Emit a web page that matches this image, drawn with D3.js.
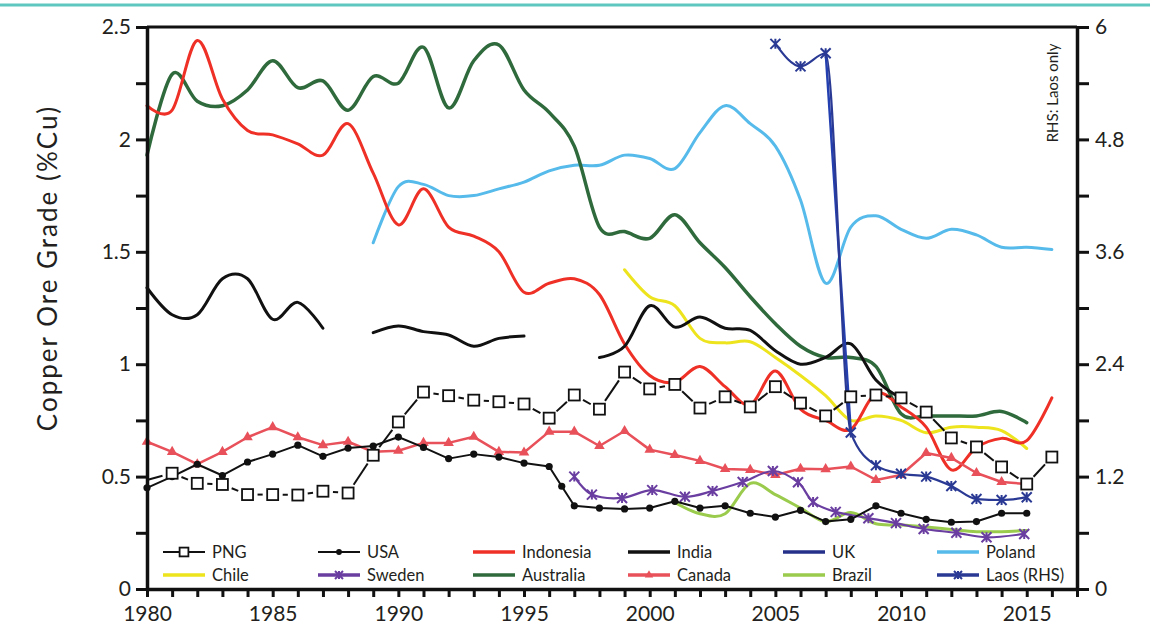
<!DOCTYPE html>
<html><head><meta charset="utf-8">
<script src="https://cdn.jsdelivr.net/npm/d3@7"></script>
<style>
html,body{margin:0;padding:0;background:#fff;}
svg{display:block;font-family:Lato,"Open Sans",sans-serif;}
</style></head>
<body><svg id="c" width="1150" height="627"></svg>
<script>
// ---------- DATA ----------
const pngYears = [1980,1981,1982,1983,1984,1985,1986,1987,1988,1989,1990,1991,1992,1993,1994,1995,1996,1997,1998,1999,2000,2001,2002,2003,2004,2005,2006,2007,2008,2009,2010,2011,2012,2013,2014,2015,2016];
const pngValues = [0.485,0.515,0.47,0.465,0.42,0.42,0.418,0.435,0.427,0.595,0.743,0.876,0.86,0.84,0.833,0.823,0.76,0.863,0.80,0.965,0.89,0.91,0.805,0.855,0.81,0.90,0.827,0.77,0.855,0.863,0.85,0.787,0.672,0.632,0.543,0.467,0.587];

const usaYears = [1980,1981,1982,1983,1984,1985,1986,1987,1988,1989,1990,1991,1992,1993,1994,1995,1996,1996.5,1997,1998,1999,2000,2001,2002,2003,2004,2005,2006,2007,2008,2009,2010,2011,2012,2013,2014,2015];
const usaValues = [0.45,0.50,0.555,0.505,0.565,0.60,0.64,0.59,0.627,0.636,0.676,0.63,0.58,0.60,0.587,0.56,0.545,0.457,0.37,0.36,0.356,0.36,0.39,0.36,0.37,0.337,0.32,0.35,0.30,0.31,0.37,0.337,0.31,0.297,0.30,0.337,0.337];

const indonesiaYears = [1980,1981,1982,1983,1984,1985,1986,1987,1988,1989,1990,1991,1992,1993,1994,1995,1996,1997,1998,1999,2000,2001,2002,2003,2004,2005,2006,2007,2008,2009,2010,2011,2012,2013,2014,2015,2016];
const indonesiaValues = [2.15,2.13,2.44,2.18,2.04,2.02,1.98,1.93,2.07,1.85,1.62,1.78,1.61,1.57,1.50,1.32,1.36,1.38,1.31,1.09,0.95,0.92,0.99,0.90,0.82,0.97,0.80,0.75,0.71,0.87,0.81,0.72,0.53,0.63,0.67,0.66,0.85];

const indiaYears = [1980,1981,1982,1983,1984,1985,1986,1987,1988,1989,1990,1991,1992,1993,1994,1995,1996,1997,1998,1999,2000,2001,2002,2003,2004,2005,2006,2007,2008,2009,2010];
const indiaValues = [1.34,1.22,1.22,1.38,1.38,1.20,1.275,1.16,null,1.14,1.17,1.145,1.13,1.08,1.115,1.125,null,null,1.03,1.08,1.26,1.165,1.21,1.16,1.15,1.06,1.00,1.03,1.09,0.93,0.85];

const ukYears = [2007,2008];
const ukValues = [2.39,0.70];

const polandYears = [1989,1990,1991,1992,1993,1994,1995,1996,1997,1998,1999,2000,2001,2002,2003,2004,2005,2006,2007,2008,2009,2010,2011,2012,2013,2014,2015,2016];
const polandValues = [1.54,1.79,1.80,1.75,1.75,1.78,1.81,1.86,1.885,1.885,1.93,1.915,1.87,2.03,2.15,2.07,1.97,1.73,1.36,1.61,1.66,1.60,1.56,1.60,1.575,1.52,1.52,1.51];

const chileYears = [1999,2000,2001,2002,2003,2004,2005,2006,2007,2008,2009,2010,2011,2012,2013,2014,2015];
const chileValues = [1.42,1.30,1.26,1.115,1.095,1.10,1.03,0.95,0.86,0.75,0.77,0.75,0.695,0.72,0.72,0.705,0.625];

const swedenYears = [1997,1997.7,1998.9,2000.1,2001.4,2002.5,2003.7,2004.9,2005.9,2006.5,2007.4,2008.7,2009.8,2010.9,2012.2,2013.4,2014.9];
const swedenValues = [0.50,0.42,0.405,0.44,0.41,0.436,0.476,0.525,0.475,0.387,0.343,0.315,0.293,0.267,0.25,0.23,0.245];

const australiaYears = [1980,1981,1982,1983,1984,1985,1986,1987,1988,1989,1990,1991,1992,1993,1994,1995,1996,1997,1998,1999,2000,2001,2002,2003,2004,2005,2006,2007,2008,2009,2010,2011,2012,2013,2014,2015];
const australiaValues = [1.93,2.29,2.17,2.15,2.22,2.35,2.23,2.26,2.13,2.28,2.25,2.41,2.14,2.35,2.42,2.22,2.12,1.97,1.61,1.59,1.56,1.665,1.54,1.43,1.30,1.18,1.08,1.03,1.03,0.99,0.78,0.77,0.77,0.77,0.79,0.74];

const canadaYears = [1980,1981,1982,1983,1984,1985,1986,1987,1988,1989,1990,1991,1992,1993,1994,1995,1996,1997,1998,1999,2000,2001,2002,2003,2004,2005,2006,2007,2008,2009,2010,2011,2012,2013,2014,2015];
const canadaValues = [0.655,0.61,0.555,0.61,0.675,0.72,0.675,0.64,0.655,0.61,0.615,0.65,0.65,0.677,0.61,0.607,0.70,0.70,0.636,0.703,0.62,0.596,0.57,0.534,0.53,0.507,0.535,0.533,0.545,0.485,0.507,0.605,0.583,0.516,0.476,0.467];

const brazilYears = [2001,2002,2003,2004,2005,2006,2007,2008,2009,2010,2011,2012,2013,2014,2015];
const brazilValues = [0.385,0.335,0.335,0.47,0.42,0.36,0.30,0.34,0.29,0.285,0.276,0.265,0.255,0.255,0.26];

const laosYears = [2005,2006,2007,2008,2009,2010,2011,2012,2013,2014,2015];
const laosValues = [5.82,5.58,5.72,1.67,1.32,1.23,1.20,1.10,0.96,0.95,0.98]; // right-hand scale

const leftTicks = [0,0.25,0.5,0.75,1,1.25,1.5,1.75,2,2.25,2.5];
const leftLabels = [0,0.5,1,1.5,2,2.5];
const rightTicks = [0,0.6,1.2,1.8,2.4,3.0,3.6,4.2,4.8,5.4,6];
const rightLabels = [0,1.2,2.4,3.6,4.8,6];
const xTicks = d3.range(1980, 2018);
const xLabels = [1980,1985,1990,1995,2000,2005,2010,2015];

// ---------- SETUP ----------
const svg = d3.select("#c");
const x = d3.scaleLinear().domain([1980, 2017]).range([147, 1077]);
const y = d3.scaleLinear().domain([0, 2.5]).range([589, 27]);
const yR = d3.scaleLinear().domain([0, 6]).range([589, 27]);
const TXT = "#231f20";

// teal rule at top
svg.append("line").attr("x1",0).attr("x2",1150).attr("y1",5).attr("y2",5)
  .attr("stroke","#5ec7bf").attr("stroke-width",3);

const zip = (xs, vs) => xs.map((d,i)=>({x:d, v:vs[i]}));
const smooth = d3.curveCardinal.tension(0);

const series = [
  {name:"Poland", xs:polandYears, vs:polandValues, color:"#56bbea", w:3, curve:smooth},
  {name:"Australia", xs:australiaYears, vs:australiaValues, color:"#2f6a3c", w:3.5, curve:smooth},
  {name:"Chile", xs:chileYears, vs:chileValues, color:"#ede41e", w:3, curve:smooth},
  {name:"Brazil", xs:brazilYears, vs:brazilValues, color:"#9bcb4c", w:3, curve:smooth},
  {name:"Indonesia", xs:indonesiaYears, vs:indonesiaValues, color:"#ee3027", w:3, curve:smooth},
  {name:"India", xs:indiaYears, vs:indiaValues, color:"#111", w:3, curve:smooth},
  {name:"Canada", xs:canadaYears, vs:canadaValues, color:"#e8505a", w:2.5, curve:d3.curveLinear, marker:"tri"},
  {name:"Sweden", xs:swedenYears, vs:swedenValues, color:"#6a3ea1", w:2.2, curve:smooth, marker:"star"},
  {name:"USA", xs:usaYears, vs:usaValues, color:"#111", w:2, curve:d3.curveLinear, marker:"dot"},
  {name:"UK", xs:ukYears, vs:ukValues, color:"#2440b0", w:2.5, curve:d3.curveLinear},
  {name:"Laos (RHS)", xs:laosYears, vs:laosValues, color:"#2a3a94", w:2.2, curve:d3.curveMonotoneX, marker:"star", right:true}
];

const plot = svg.append("g");

function drawMarker(g, type, cx, cy, color, s=1) {
  if (type==="tri") {
    g.append("path").attr("d", d3.symbol(d3.symbolTriangle, 48*s*s)())
      .attr("transform",`translate(${cx},${cy})`).attr("fill",color);
  } else if (type==="dot") {
    g.append("circle").attr("cx",cx).attr("cy",cy).attr("r",3.6*s).attr("fill",color);
  } else if (type==="star") {
    const r = 5*s;
    g.append("path").attr("d",`M${cx-r},${cy-r}L${cx+r},${cy+r}M${cx-r},${cy+r}L${cx+r},${cy-r}M${cx},${cy-r}L${cx},${cy+r}`)
      .attr("stroke",color).attr("stroke-width",2).attr("fill","none");
  } else if (type==="sq") {
    const h = 5.5*s;
    g.append("rect").attr("x",cx-h).attr("y",cy-h).attr("width",2*h).attr("height",2*h)
      .attr("fill","#fff").attr("stroke","#111").attr("stroke-width",1.8);
  }
}

series.forEach(s => {
  const ys = s.right ? yR : y;
  const data = zip(s.xs, s.vs);
  const line = d3.line().defined(d=>d.v!=null).x(d=>x(d.x)).y(d=>ys(d.v)).curve(s.curve);
  plot.append("path").attr("d", line(data)).attr("fill","none")
    .attr("stroke", s.color).attr("stroke-width", s.w).attr("stroke-linejoin","round").attr("stroke-linecap","round");
  if (s.marker) data.forEach(d => drawMarker(plot, s.marker, x(d.x), ys(d.v), s.color));
});

// PNG: segments trimmed around hollow square markers
const png = zip(pngYears, pngValues).map(d=>({x:x(d.x), y:y(d.v), m:d.x!==1980}));
for (let i=0;i<png.length-1;i++){
  const a=png[i], b=png[i+1];
  const dx=b.x-a.x, dy=b.y-a.y, L=Math.hypot(dx,dy);
  const ga=a.m?10:0, gb=b.m?10:0;
  if (L>ga+gb+2){
    const ux=dx/L, uy=dy/L;
    plot.append("line").attr("x1",a.x+ux*ga).attr("y1",a.y+uy*ga).attr("x2",b.x-ux*gb).attr("y2",b.y-uy*gb)
      .attr("stroke","#111").attr("stroke-width",2);
  }
}
png.filter(d=>d.m).forEach(d=>drawMarker(plot,"sq",d.x,d.y,"#111"));

// ---------- AXES ----------
const fmt = d => String(+d.toFixed(2));
const has = (arr, d) => arr.some(v=>Math.abs(v-d)<1e-6);

const gL = svg.append("g").attr("transform",`translate(${x(1980)},0)`)
  .call(d3.axisLeft(y).tickValues(leftTicks).tickSize(11).tickSizeOuter(0).tickPadding(5)
    .tickFormat(d=>has(leftLabels,d)?fmt(d):""));
const gR = svg.append("g").attr("transform",`translate(${x(2017)},0)`)
  .call(d3.axisRight(yR).tickValues(rightTicks).tickSize(12).tickSizeOuter(0).tickPadding(6)
    .tickFormat(d=>has(rightLabels,d)?fmt(d):""));
const gB = svg.append("g").attr("transform",`translate(0,${y(0)})`)
  .call(d3.axisBottom(x).tickValues(xTicks).tickSize(8).tickSizeOuter(0).tickPadding(9)
    .tickFormat(d=>xLabels.includes(d)?String(d):""));
[gL,gR,gB].forEach(g=>{
  g.select(".domain").attr("stroke","#111").attr("stroke-width",3.5);
  g.selectAll(".tick line").attr("stroke","#111").attr("stroke-width",3);
  g.selectAll(".tick text").attr("fill",TXT).attr("font-size",21).attr("font-family","Lato");
});
svg.append("line").attr("x1",x(1980)).attr("x2",x(2017)).attr("y1",y(2.5)).attr("y2",y(2.5))
  .attr("stroke","#111").attr("stroke-width",3);

// axis titles
svg.append("text").attr("transform","translate(57,268) rotate(-90)").attr("text-anchor","middle")
  .attr("font-size",26).attr("letter-spacing",2).attr("fill",TXT).text("Copper Ore Grade (%Cu)");
svg.append("text").attr("transform","translate(1058,93) rotate(-90)").attr("text-anchor","middle")
  .attr("font-size",15).attr("fill",TXT).text("RHS: Laos only");

// ---------- LEGEND ----------
const legendRows = [
  [{n:"PNG",c:"#111",m:"sq"},{n:"USA",c:"#111",m:"dot"},{n:"Indonesia",c:"#ee3027"},{n:"India",c:"#111"},{n:"UK",c:"#24308a"},{n:"Poland",c:"#56bbea"}],
  [{n:"Chile",c:"#ede41e"},{n:"Sweden",c:"#6a3ea1",m:"star"},{n:"Australia",c:"#2f6a3c"},{n:"Canada",c:"#e8505a",m:"tri"},{n:"Brazil",c:"#9bcb4c"},{n:"Laos (RHS)",c:"#2a3a94",m:"star"}]
];
const colX = [163,318,473,628,783,937];
const rowY = [552,575];
const lg = svg.append("g");
legendRows.forEach((row,ri)=>row.forEach((e,ci)=>{
  const x0=colX[ci], yy=rowY[ri];
  lg.append("line").attr("x1",x0).attr("x2",x0+42).attr("y1",yy).attr("y2",yy)
    .attr("stroke",e.c).attr("stroke-width",e.m==="sq"||e.m==="dot"?2.2:3.5);
  if (e.m) drawMarker(lg, e.m, x0+21, yy, e.c, 0.8);
  lg.append("text").attr("x",x0+49).attr("y",yy).attr("dy","0.35em").attr("font-size",16.5)
    .attr("fill",TXT).text(e.n);
}));
</script></body></html>
